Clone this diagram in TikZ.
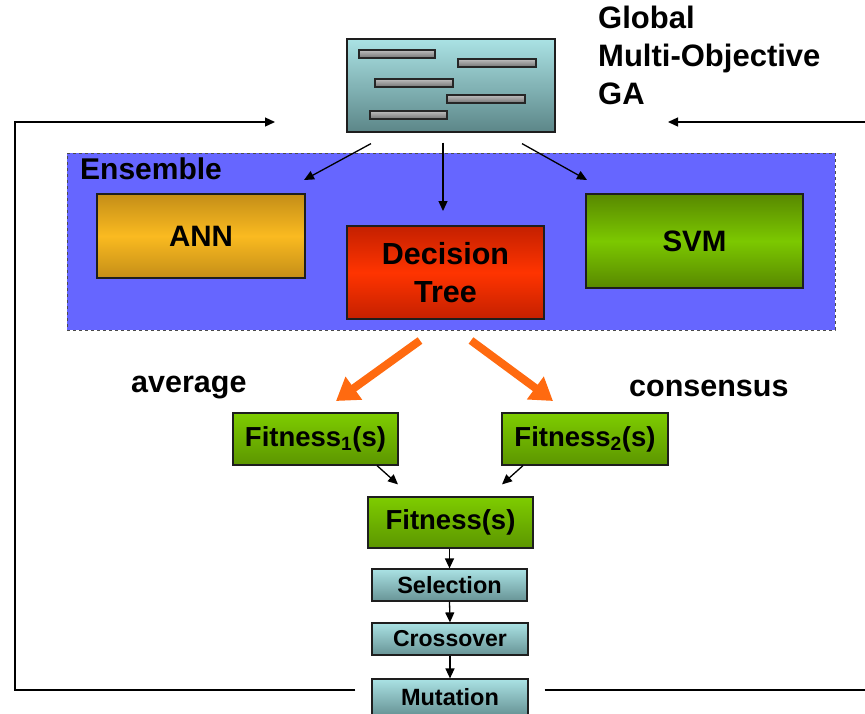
\documentclass[tikz,border=0pt]{standalone}
\usepackage{fontspec}
\setmainfont{Liberation Sans}
\usetikzlibrary{arrows.meta,calc}

% palette
\definecolor{ensblue}{RGB}{102,102,255}
\definecolor{gatop}{RGB}{170,226,228}
\definecolor{gabot}{RGB}{92,134,136}
\definecolor{anndark}{RGB}{196,142,24}
\definecolor{annlight}{RGB}{250,186,32}
\definecolor{dtdark}{RGB}{196,32,0}
\definecolor{dtlight}{RGB}{255,52,0}
\definecolor{svmdark}{RGB}{88,136,0}
\definecolor{svmlight}{RGB}{124,200,0}
\definecolor{fitlight}{RGB}{126,204,0}
\definecolor{fitdark}{RGB}{92,150,0}
\definecolor{orangearrow}{RGB}{255,106,16}
\definecolor{edge}{RGB}{30,30,30}
\definecolor{bartop}{RGB}{190,190,190}
\definecolor{barbot}{RGB}{115,115,115}

\tikzset{
  box/.style={draw=edge, line width=1.2pt, inner sep=0pt, align=center, font=\bfseries},
  gabox/.style={box, top color=gatop, bottom color=gabot},
  stagebox/.style={box, top color=gatop, bottom color=gabot!85!gatop, font=\fontsize{23.5}{26}\selectfont\bfseries},
  annbox/.style={box, top color=anndark, bottom color=anndark, middle color=annlight, font=\fontsize{29.5}{36}\selectfont\bfseries},
  dtbox/.style={box, top color=dtdark, bottom color=dtdark, middle color=dtlight, font=\fontsize{30.5}{38}\selectfont\bfseries},
  svmbox/.style={box, top color=svmdark, bottom color=svmdark, middle color=svmlight, font=\fontsize{29.5}{36}\selectfont\bfseries},
  fitbox/.style={box, top color=fitlight, bottom color=fitdark, font=\fontsize{27.5}{30}\selectfont\bfseries},
  bar/.style={draw=black!85, line width=1.5pt, top color=bartop, bottom color=barbot},
  label/.style={font=\fontsize{30.5}{36}\selectfont\bfseries, inner sep=0pt},
  thin/.style={line width=1.3pt, -{Triangle[length=10pt,width=9pt]}},
  fat/.style={orangearrow, line width=8pt, -{Triangle[length=22pt,width=27pt]}},
}

\begin{document}
\begin{tikzpicture}[x=1pt,y=-1pt]
  \useasboundingbox (0,0) rectangle (865,713);

  % ensemble panel
  \node[draw=edge!80, dashed, line width=1pt, fill=ensblue, minimum width=768pt, minimum height=177pt, inner sep=0pt] (ens) at (451,241.5) {};
  \node[label, anchor=west, font=\fontsize{30}{36}\selectfont\bfseries] (enslbl) at (80,169) {Ensemble};

  % global GA box with its chromosome bars
  \node[gabox, minimum width=208pt, minimum height=93pt] (ga) at (451,85.5) {};
  \draw[bar] (359,50) rectangle (435,58);
  \draw[bar] (458,59) rectangle (536,67);
  \draw[bar] (375,79) rectangle (453,87);
  \draw[bar] (447,95) rectangle (525,103);
  \draw[bar] (370,111) rectangle (447,119);
  \node[label, anchor=north west, align=left, font=\fontsize{31}{38}\selectfont\bfseries] (galbl) at (598,6) {Global\\Multi-Objective\\GA};

  % ensemble members
  \node[annbox, minimum width=208pt, minimum height=84pt] (ann) at (201,236) {ANN};
  \node[dtbox, minimum width=197pt, minimum height=93pt] (dt) at (445.5,272.5) {Decision\\Tree};
  \node[svmbox, minimum width=217pt, minimum height=94pt] (svm) at (694.5,241) {SVM};

  % fitness boxes
  \node[fitbox, minimum width=165pt, minimum height=52pt] (f1) at (315.5,439) {Fitness\textsubscript{1}(s)};
  \node[fitbox, minimum width=166pt, minimum height=52pt] (f2) at (585,439) {Fitness\textsubscript{2}(s)};
  \node[fitbox, minimum width=165pt, minimum height=51pt] (f) at (450.5,522.5) {Fitness(s)};

  % GA operators
  \node[stagebox, minimum width=155pt, minimum height=32pt] (sel) at (449.5,585) {Selection};
  \node[stagebox, minimum width=156pt, minimum height=32pt, font=\fontsize{23}{26}\selectfont\bfseries] (cross) at (450,639) {Crossover};
  \node[stagebox, minimum width=156pt, minimum height=36pt] (mut) at (450,697) {Mutation};

  % combination labels
  \node[label, anchor=west] (avg) at (131,388) {average};
  \node[label, anchor=west] (cons) at (629,388) {consensus};

  % distribution from the GA into the ensemble
  \coordinate (tipL) at (304,180);
  \coordinate (tipM) at (443,211);
  \coordinate (tipR) at (587,180);
  \draw[thin] ($(ga.south)+(-80,11)$) -- (tipL);
  \draw[thin] ($(ga.south)+(-8,10)$) -- (tipM);
  \draw[thin] ($(ga.south)+(71,11)$) -- (tipR);

  % combination arrows
  \coordinate (oL) at (336,401);
  \coordinate (oR) at (553,401);
  \draw[fat] ($(ens.south)+(-31,10)$) -- (oL);
  \draw[fat] ($(ens.south)+(20,10)$) -- (oR);

  % fitness merging
  \draw[thin] ($(f1.south)+(61.5,0)$) -- ($(f.north)+(-52.5,-12)$);
  \draw[thin] ($(f2.south)+(-62,0)$) -- ($(f.north)+(51.5,-12)$);

  % GA operator chain
  \draw[thin] (f.south -| sel.north) -- (sel.north);
  \draw[thin] (sel.south) -- (cross.north);
  \draw[thin] (cross.south) -- (mut.north);

  % feedback loops back to the global GA
  \coordinate (fbL) at (275,122);
  \coordinate (fbR) at (668,122);
  \draw[thin] ($(mut.west)+(-16,-7)$) -- (15,690) -- (15,122) -- (fbL);
  \draw[thin] ($(mut.east)+(16,-7)$) -- (875,690) -- (875,122) -- (fbR);
\end{tikzpicture}
\end{document}
